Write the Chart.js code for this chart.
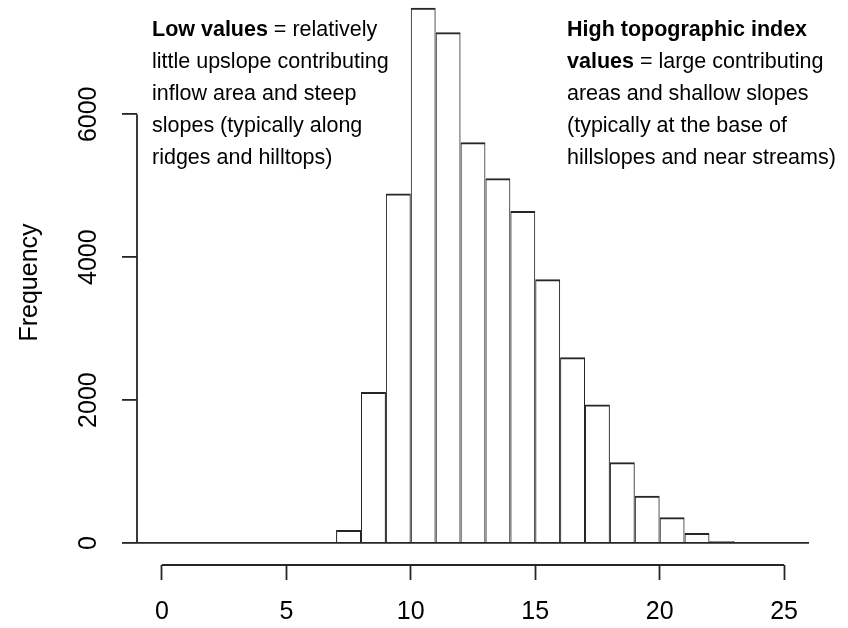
<!DOCTYPE html>
<html>
<head>
<meta charset="utf-8">
<script src="https://cdn.jsdelivr.net/npm/chart.js@4.4.1/dist/chart.umd.min.js"></script>
<style>
  html, body { margin: 0; padding: 0; background: #fff; }
  #wrap { width: 848px; height: 628px; }
</style>
</head>
<body>
<div id="wrap"><canvas id="hist"></canvas></div>
<script>
// histogram bins (topographic index) and their counts
const binEdges = [7, 8, 9, 10, 11, 12, 13, 14, 15, 16, 17, 18, 19, 20, 21, 22, 23]
const counts = [182, 2112, 4890, 7490, 7150, 5610, 5105, 4645, 3690, 2600, 1940, 1130, 660, 360, 140, 28]
const yTickValues = [0, 2000, 4000, 6000]
const xTickValues = [0, 5, 10, 15, 20, 25]

const lowNote = [
  [['Low values', true], [' = relatively', false]],
  [['little upslope contributing', false]],
  [['inflow area and steep', false]],
  [['slopes (typically along', false]],
  [['ridges and hilltops)', false]]
]
const highNote = [
  [['High topographic index', true]],
  [['values', true], [' = large contributing', false]],
  [['areas and shallow slopes', false]],
  [['(typically at the base of', false]],
  [['hillslopes and near streams)', false]]
]

const ink = '#262626'
const family = 'Arial, "Liberation Sans", Helvetica, sans-serif'

const histData = counts.map((c, i) => ({ x: (binEdges[i] + binEdges[i + 1]) / 2, y: c }))

// R-style axis lines that only span first..last tick, plus the notes
const rAxes = {
  id: 'rAxes',
  afterDraw(chart) {
    const { ctx, scales: { x, y } } = chart
    ctx.save()
    ctx.strokeStyle = ink
    ctx.lineWidth = 1.8
    ctx.beginPath()
    const ax = chart.chartArea.left
    ctx.moveTo(ax, y.getPixelForValue(yTickValues[0]))
    ctx.lineTo(ax, y.getPixelForValue(yTickValues[yTickValues.length - 1]))
    const ay = chart.chartArea.bottom
    ctx.moveTo(x.getPixelForValue(xTickValues[0]), ay)
    ctx.lineTo(x.getPixelForValue(xTickValues[xTickValues.length - 1]), ay)
    ctx.stroke()

    ctx.fillStyle = '#000'
    ctx.textBaseline = 'alphabetic'
    const drawNote = (lines, left) => {
      lines.forEach((parts, i) => {
        let px = left
        const py = 36 + i * 32
        parts.forEach(([txt, bold]) => {
          ctx.font = (bold ? 'bold ' : '') + '21.5px ' + family
          ctx.fillText(txt, px, py)
          px += ctx.measureText(txt).width
        })
      })
    }
    drawNote(lowNote, 152)
    drawNote(highNote, 567)
    ctx.restore()
  }
}

const noPad = (scale) => {
  scale.paddingTop = 0
  scale.paddingBottom = 0
  scale.paddingLeft = 0
  scale.paddingRight = 0
}

new Chart(document.getElementById('hist'), {
  type: 'bar',
  data: {
    datasets: [{
      data: histData,
      backgroundColor: 'transparent',
      borderColor: ink,
      borderWidth: { top: 2, left: 1, right: 1, bottom: 0 },
      inflateAmount: 0,
      borderSkipped: 'start',
      barPercentage: 1,
      categoryPercentage: 1
    }]
  },
  plugins: [rAxes],
  options: {
    responsive: true,
    maintainAspectRatio: false,
    animation: false,
    layout: { padding: { left: 0, right: 39, top: 0, bottom: 0 } },
    plugins: { legend: { display: false }, tooltip: { enabled: false } },
    scales: {
      x: {
        type: 'linear',
        min: -1,
        max: 26,
        offset: false,
        border: { display: false },
        grid: {
          offset: false,
          drawOnChartArea: false,
          drawTicks: true,
          tickLength: 15,
          tickColor: ink,
          tickWidth: 1.8
        },
        ticks: {
          maxRotation: 0,
          autoSkip: false,
          padding: 17,
          color: '#000',
          font: { family, size: 25 }
        },
        afterBuildTicks(scale) { scale.ticks = xTickValues.map((v) => ({ value: v })) },
        afterFit(scale) { scale.height = 63; noPad(scale) }
      },
      y: {
        min: -308,
        max: 7600,
        border: { display: false },
        grid: {
          drawTicks: true,
          tickLength: 15,
          tickColor: ink,
          tickWidth: 1.8,
          lineWidth: 1.8,
          color: (c) => (c.tick && c.tick.value === 0 ? ink : 'transparent')
        },
        ticks: {
          minRotation: 90,
          maxRotation: 90,
          crossAlign: 'center',
          padding: 5,
          color: '#000',
          font: { family, size: 25 },
          callback: (v) => String(v)
        },
        afterBuildTicks(scale) { scale.ticks = yTickValues.map((v) => ({ value: v })) },
        title: {
          display: true,
          text: 'Frequency',
          color: '#000',
          font: { family, size: 25 },
          padding: { top: 15, bottom: 0 }
        },
        afterFit(scale) { scale.width = 137; noPad(scale) }
      }
    }
  }
})
</script>
</body>
</html>
